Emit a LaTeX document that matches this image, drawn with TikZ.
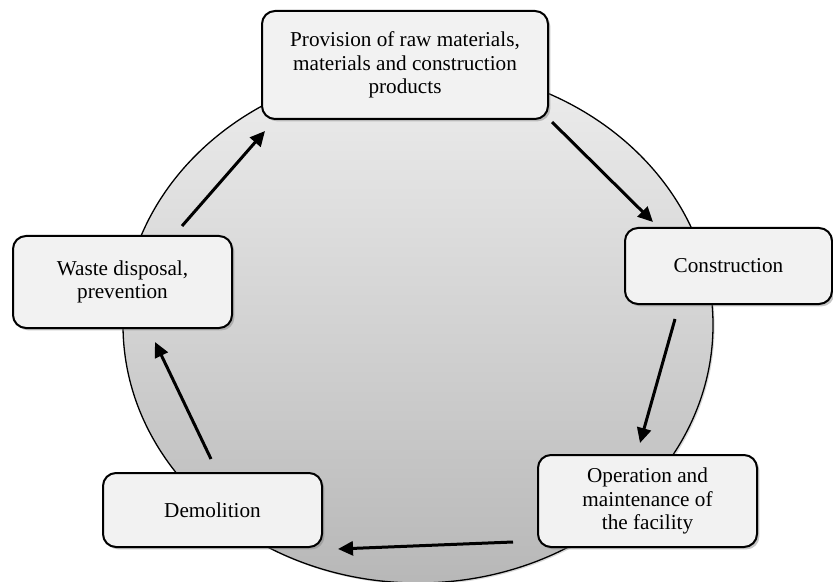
\documentclass[tikz,border=0pt]{standalone}
\usepackage{fontspec}
\setmainfont{Liberation Serif}
\usetikzlibrary{arrows.meta,shadows}
\definecolor{boxgray}{RGB}{242,242,242}
\tikzset{
  stage/.style={draw, line width=1pt, rounded corners=6.5pt, fill=boxgray,
    align=center, inner sep=2pt, font=\fontsize{10.6}{11.7}\selectfont,
    drop shadow={shadow xshift=1.2pt, shadow yshift=-1.2pt, opacity=0.45}},
  cyc/.style={-{Triangle[length=7.5pt,width=7pt]}, line width=1.5pt}
}
\begin{document}
\begin{tikzpicture}[x=0.5pt,y=0.5pt]
    \useasboundingbox (0,0) rectangle (833,-582);
    % life cycle ring
    \shade[top color=black!7, bottom color=black!28, draw=black, line width=0.65pt,
        drop shadow={shadow xshift=0.8pt, shadow yshift=-0.8pt, opacity=0.3}]
        (418,-325) ellipse (295 and 258);
    % arrow ends
    \coordinate (prov-out) at (552,-122);
    \coordinate (cons-in) at (653,-222);
    \coordinate (cons-out) at (675,-319);
    \coordinate (oper-in) at (640,-443);
    \coordinate (oper-out) at (513,-542);
    \coordinate (demo-in) at (338,-549);
    \coordinate (demo-out) at (211,-459);
    \coordinate (waste-in) at (155,-342);
    \coordinate (waste-out) at (182,-226);
    \coordinate (prov-in) at (265,-131);
    \draw[cyc] (prov-out) -- (cons-in);
    \draw[cyc] (cons-out) -- (oper-in);
    \draw[cyc] (oper-out) -- (demo-in);
    \draw[cyc] (demo-out) -- (waste-in);
    \draw[cyc] (waste-out) -- (prov-in);
    % stages
    \node[stage, minimum width=143pt, minimum height=54pt] (prov) at (405,-65)
        {Provision of raw materials,\\ materials and construction\\ products};
    \node[stage, minimum width=103.5pt, minimum height=38pt] (cons) at (728.5,-266)
        {Construction};
    \node[stage, minimum width=109.5pt, minimum height=46pt] (oper) at (647.5,-501)
        {Operation and\\ maintenance of\\ the facility};
    \node[stage, minimum width=109.5pt, minimum height=37pt] (demo) at (212.5,-510)
        {Demolition};
    \node[stage, minimum width=109.5pt, minimum height=46pt] (waste) at (122.5,-282)
        {Waste disposal,\\ prevention};
\end{tikzpicture}
\end{document}
